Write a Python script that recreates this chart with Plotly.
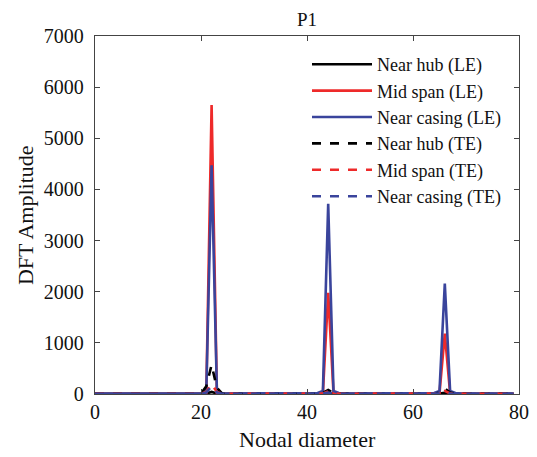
import plotly.graph_objects as go

nodal_diameter = list(range(80))

#            0-9                            10-19                          20-29                                     30-39                          40-49                                    50-59                          60-69                                    70-79
near_hub_le = [5,5,5,5,5,5,5,5,5,5,        5,5,5,5,5,5,5,5,5,5,          5,10,40,10,5,5,5,5,5,5,                  5,5,5,5,5,5,5,5,5,5,          5,5,5,8,30,8,5,5,5,5,                    5,5,5,5,5,5,5,5,5,5,          5,5,5,5,5,8,25,8,5,5,                    5,5,5,5,5,5,5,5,5,5]
mid_span_le = [5,5,5,5,5,5,5,5,5,5,        5,5,5,5,5,5,5,5,5,5,          5,20,5650,20,5,5,5,5,5,5,                5,5,5,5,5,5,5,5,5,5,          5,5,5,15,1980,15,5,5,5,5,                5,5,5,5,5,5,5,5,5,5,          5,5,5,5,5,15,1180,15,5,5,                5,5,5,5,5,5,5,5,5,5]
near_casing_le = [10,10,10,10,10,10,10,10,10,10, 10,10,10,10,10,10,10,10,10,10, 10,50,4470,50,10,10,10,10,10,10,     10,10,10,10,10,10,10,10,10,10, 10,10,20,60,3720,60,20,10,10,10,        10,10,10,10,10,10,10,10,10,10, 10,10,10,10,20,60,2160,60,20,10,        10,10,10,10,10,10,10,10,10,10]
near_hub_te = [5,5,5,5,5,5,5,5,5,5,        5,5,5,5,5,5,5,5,5,5,          5,150,570,120,5,5,5,5,5,5,               5,5,5,5,5,5,5,5,5,5,          5,5,5,20,80,20,5,5,5,5,                  5,5,5,5,5,5,5,5,5,5,          5,5,5,5,5,30,110,30,5,5,                 5,5,5,5,5,5,5,5,5,5]
mid_span_te = [5,5,5,5,5,5,5,5,5,5,        5,5,5,5,5,5,5,5,5,5,          5,40,200,40,5,5,5,5,5,5,                 5,5,5,5,5,5,5,5,5,5,          5,5,5,10,50,10,5,5,5,5,                  5,5,5,5,5,5,5,5,5,5,          5,5,5,5,5,10,60,10,5,5,                  5,5,5,5,5,5,5,5,5,5]
near_casing_te = [5,5,5,5,5,5,5,5,5,5,     5,5,5,5,5,5,5,5,5,5,          5,30,150,30,5,5,5,5,5,5,                 5,5,5,5,5,5,5,5,5,5,          5,5,5,10,30,10,5,5,5,5,                  5,5,5,5,5,5,5,5,5,5,          5,5,5,5,5,10,40,10,5,5,                  5,5,5,5,5,5,5,5,5,5]

series_names = ["Near hub (LE)", "Mid span (LE)", "Near casing (LE)",
                "Near hub (TE)", "Mid span (TE)", "Near casing (TE)"]
series_values = [near_hub_le, mid_span_le, near_casing_le,
                 near_hub_te, mid_span_te, near_casing_te]

BLACK = "#000000"
RED = "#EE2A2A"
BLUE = "#3A449C"
colors = [BLACK, RED, BLUE, BLACK, RED, BLUE]
dashes = ["solid", "solid", "solid", "dash", "dash", "dash"]

FONT = "Liberation Serif"

fig = go.Figure()
for name, vals, c, d in zip(series_names, series_values, colors, dashes):
    fig.add_trace(go.Scatter(x=nodal_diameter, y=vals, mode="lines", name=name,
                             line=dict(color=c, width=2.6, dash=d)))

fig.update_layout(
    width=537, height=457,
    margin=dict(l=95, r=18, t=36, b=63),
    paper_bgcolor="white", plot_bgcolor="white",
    font=dict(family=FONT, size=20, color="#111111"),
    title=dict(text="P1", x=0.5, xanchor="center", xref="paper",
               y=0.958, yanchor="middle", font=dict(size=19, family=FONT)),
    showlegend=True,
    legend=dict(x=0.50, y=0.972, xanchor="left", yanchor="top",
                bgcolor="rgba(0,0,0,0)", font=dict(size=18, family=FONT),
                tracegroupgap=0, itemwidth=60),
    annotations=[
        dict(text="Nodal diameter", xref="paper", yref="paper", x=0.5, y=-0.127,
             xanchor="center", yanchor="middle", showarrow=False,
             font=dict(size=22, family=FONT)),
        dict(text="DFT Amplitude", xref="paper", yref="paper", x=-0.165, y=0.5,
             xanchor="center", yanchor="middle", showarrow=False, textangle=-90,
             font=dict(size=22, family=FONT)),
    ],
)
fig.update_xaxes(range=[0, 80], tickvals=[0, 20, 40, 60, 80], automargin=False,
                 showgrid=False, zeroline=False, showline=True, mirror="ticks",
                 linecolor="#444444", linewidth=1.3, ticks="inside", ticklen=5,
                 tickcolor="#444444", ticklabelstandoff=0,
                 tickfont=dict(size=20, family=FONT))
fig.update_yaxes(range=[0, 7000], tickvals=[0, 1000, 2000, 3000, 4000, 5000, 6000, 7000], automargin=False,
                 showgrid=False, zeroline=False, showline=True, mirror="ticks",
                 linecolor="#444444", linewidth=1.3, ticks="inside", ticklen=5,
                 tickcolor="#444444", ticklabelstandoff=6,
                 tickfont=dict(size=20, family=FONT))

fig.write_html("out.html")
